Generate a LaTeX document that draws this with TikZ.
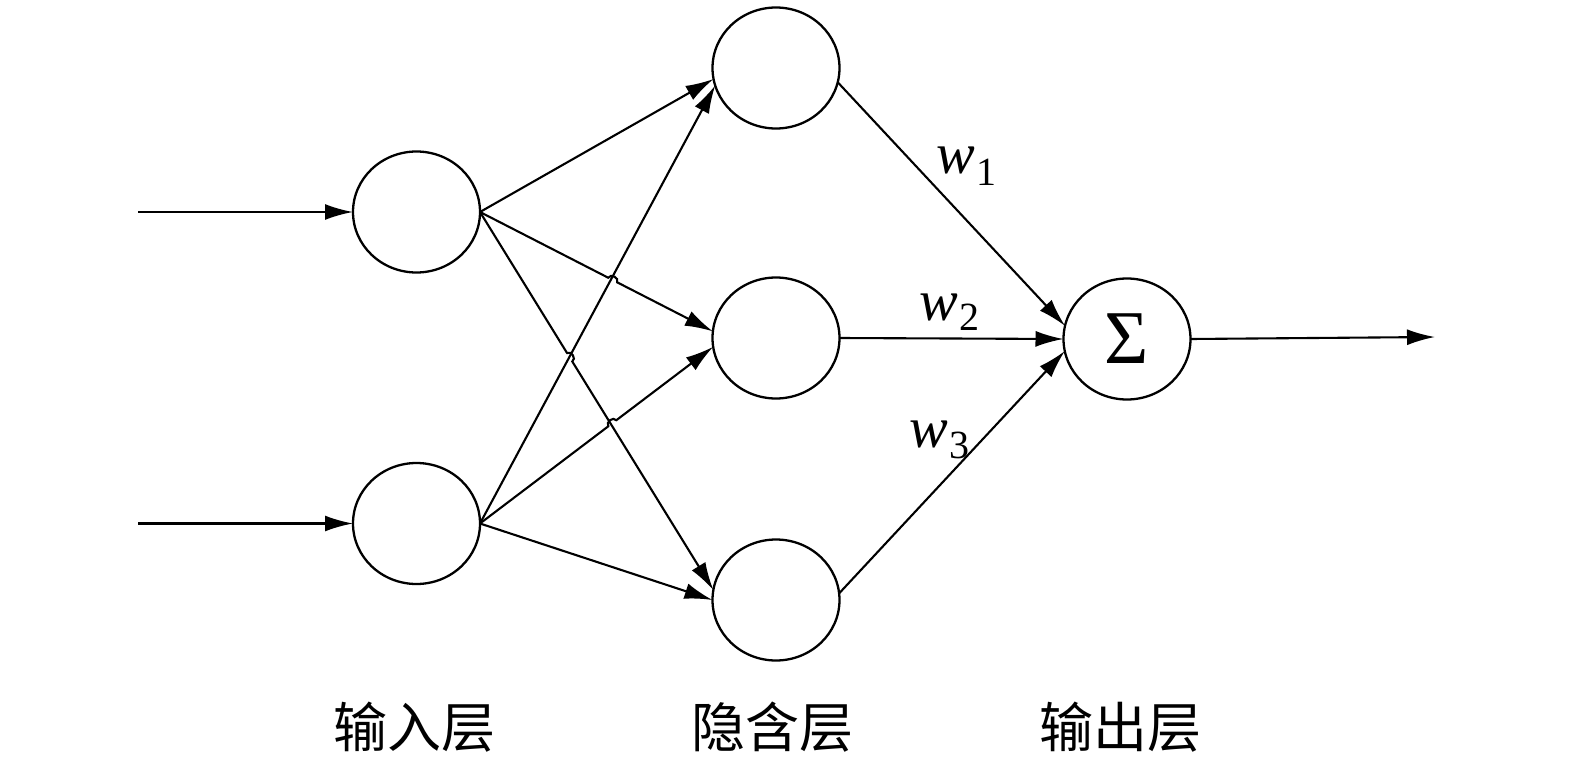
\documentclass[tikz,border=0pt]{standalone}
\usepackage{fontspec}
\setmainfont{Liberation Serif}
\newfontfamily\cjk{Noto Sans CJK SC}
\usetikzlibrary{shapes.geometric,arrows.meta,calc}
\begin{document}
\begin{tikzpicture}[x=1pt,y=-1pt,
  neuron/.style={draw,ellipse,line width=2.3pt,minimum width=127pt,minimum height=121pt,inner sep=0pt,outer sep=0pt},
  conn/.style={line width=2.1pt,-{Latex[length=28pt,width=16pt]}},
  hop/.style={bend left=90,looseness=1.3},
  wlab/.style={anchor=base west,inner sep=0pt,font=\fontsize{58}{58}\selectfont\itshape},
  layer/.style={inner sep=0pt,font=\cjk\fontsize{54}{54}\selectfont}]
\useasboundingbox (0,0) rectangle (1575,768);
% nodes
\node[neuron] (i1) at (416.5,212) {};
\node[neuron] (i2) at (416.5,523.5) {};
\node[neuron] (h1) at (776,68) {};
\node[neuron] (h2) at (776,338) {};
\node[neuron] (h3) at (776,600) {};
\node[neuron,font=\fontsize{76}{76}\selectfont] (o) at (1127,339) {\raisebox{-2pt}{Σ}};
% free ends
\coordinate (in1) at (138,212);
\coordinate (in2) at (138,523.5);
\coordinate (out) at (1435,337);
% inputs / output
\draw[conn] (in1) -- (i1.west);
\draw[conn] (in2) -- (i2.west);
\draw[conn] (o.east) -- (out);
% input -> hidden without hops
\draw[conn] (i1.east) -- (h1.190.3);
\draw[conn] (i2.east) -- (h3.west);
\draw[conn] (i2.east) -- (h1.196.7);
% hop crossings
\coordinate (xa) at ($(i1.east)!0.5698!(h2.174.8)$);
\draw[conn] (i1.east) -- ($(xa)!5pt!(i1.east)$) to[hop] ($(xa)!5pt!(h2.174.8)$) -- (h2.174.8);
\coordinate (xc) at ($(i1.east)!0.3842!(h3.171)$);
\draw[conn] (i1.east) -- ($(xc)!5pt!(i1.east)$) to[hop] ($(xc)!5pt!(h3.171)$) -- (h3.171);
\coordinate (xd) at ($(i2.east)!0.5675!(h2.188.6)$);
\draw[conn] (i2.east) -- ($(xd)!5pt!(i2.east)$) to[hop] ($(xd)!5pt!(h2.188.6)$) -- (h2.188.6);
% hidden -> output
\draw[conn] (h1.347) -- (o.168.5);
\draw[conn] (h2.east) -- (o.west);
\draw[conn] (h3.6) -- (o.191.5);
% weights
\node[wlab] (w1) at (936,173) {w\kern2pt\raisebox{-12pt}{\fontsize{40}{40}\selectfont\upshape 1}};
\node[wlab] (w2) at (919,320) {w\kern2pt\raisebox{-10pt}{\fontsize{40}{40}\selectfont\upshape 2}};
\node[wlab] (w3) at (909,447) {w\kern2pt\raisebox{-11pt}{\fontsize{40}{40}\selectfont\upshape 3}};
% layer labels
\node[layer] (l1) at (414,727) {输入层};
\node[layer] (l2) at (772,727) {隐含层};
\node[layer] (l3) at (1120,727) {输出层};
\end{tikzpicture}
\end{document}
